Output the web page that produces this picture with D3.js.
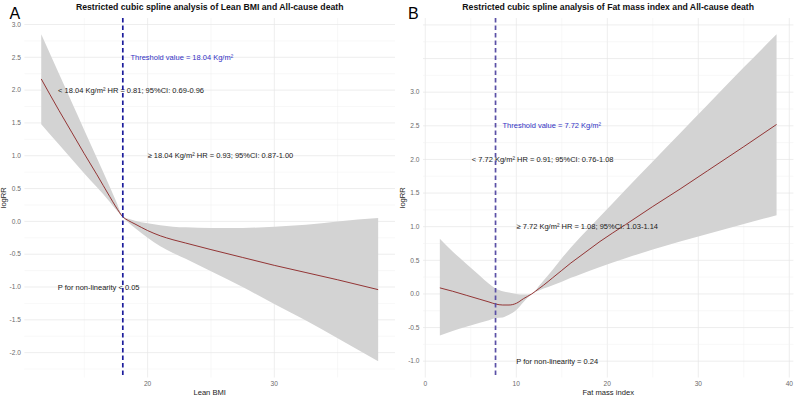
<!DOCTYPE html>
<html>
<head>
<meta charset="utf-8">
<script src="https://cdn.jsdelivr.net/npm/d3@7"></script>
<style>
  body { margin: 0; background: #fff; }
  text { font-family: "Liberation Sans", Arial, sans-serif; }
</style>
</head>
<body>
<div id="chart"></div>
<script>
const config = {
    width: 796,
    height: 396,
    top: 18,
    bottom: 377.5,
    panels: [
        {left: 24.4, right: 395},
        {left: 423, right: 793.4}
    ]
}

// panel A: lean BMI
const lean_x      = [11.6, 13, 14, 15, 16, 17, 17.5, 18.04, 18.5, 19, 20, 21, 22, 23, 25, 27.5, 30, 32.5, 35, 38.2];
const lean_logrr  = [2.17, 1.69, 1.36, 1.03, 0.71, 0.38, 0.22, 0.07, 0.01, -0.04, -0.14, -0.22, -0.28, -0.33, -0.43, -0.55, -0.67, -0.78, -0.89, -1.04];
const lean_upper  = [2.85, 2.25, 1.82, 1.39, 0.96, 0.53, 0.31, 0.08, 0.04, 0.01, -0.03, -0.06, -0.08, -0.09, -0.10, -0.10, -0.08, -0.05, 0.0, 0.05];
const lean_lower  = [1.48, 1.17, 0.95, 0.73, 0.52, 0.30, 0.18, 0.06, -0.02, -0.10, -0.25, -0.38, -0.48, -0.57, -0.76, -1.00, -1.26, -1.51, -1.78, -2.13];
const lean_threshold = 18.04;
const lean_x_ticks = [20, 30];
const lean_y_ticks = [-2, -1.5, -1, -0.5, 0, 0.5, 1, 1.5, 2, 2.5, 3];
const lean_notes = [
    {x: 22.7, y: 2.5, text: "Threshold value = 18.04 Kg/m²", blue: true},
    {x: 18.69, y: 2.0, text: "< 18.04 Kg/m² HR = 0.81; 95%CI: 0.69-0.96"},
    {x: 25.75, y: 1.0, text: "≥ 18.04 Kg/m² HR = 0.93; 95%CI: 0.87-1.00"},
    {x: 16.13, y: -1.0, text: "P for non-linearity < 0.05"}
];

// panel B: fat mass index
const fat_x      = [1.6, 3, 4.5, 6, 7, 7.72, 8.5, 9.2, 10, 10.8, 11.7, 12.5, 13, 14, 15, 16, 17, 18, 19.2, 22, 25, 28, 31, 35, 38.6];
const fat_logrr  = [0.09, 0.04, -0.02, -0.08, -0.12, -0.15, -0.165, -0.165, -0.14, -0.07, 0.0, 0.08, 0.13, 0.24, 0.35, 0.46, 0.56, 0.66, 0.78, 1.03, 1.30, 1.56, 1.83, 2.19, 2.52];
const fat_upper  = [0.82, 0.63, 0.45, 0.27, 0.15, 0.08, 0.04, 0.02, 0.0, -0.01, 0.0, 0.12, 0.20, 0.36, 0.53, 0.69, 0.84, 0.98, 1.15, 1.55, 1.97, 2.39, 2.81, 3.37, 3.86];
const fat_lower  = [-0.62, -0.55, -0.49, -0.43, -0.39, -0.36, -0.35, -0.31, -0.24, -0.12, 0.0, 0.05, 0.08, 0.13, 0.18, 0.24, 0.29, 0.34, 0.40, 0.53, 0.66, 0.78, 0.89, 1.04, 1.17];
const fat_threshold = 7.72;
const fat_x_ticks = [0, 10, 20, 30, 40];
const fat_y_ticks = [-1, -0.5, 0, 0.5, 1, 1.5, 2, 2.5, 3];
const fat_notes = [
    {x: 13.9, y: 2.5, text: "Threshold value = 7.72 Kg/m²", blue: true},
    {x: 12.9, y: 2.0, text: "< 7.72 Kg/m² HR = 0.91; 95%CI: 0.76-1.08"},
    {x: 17.8, y: 1.0, text: "≥ 7.72 Kg/m² HR = 1.08; 95%CI: 1.03-1.14"},
    {x: 14.5, y: -1.0, text: "P for non-linearity = 0.24"}
];

const panel_tags = ["A", "B"];
const panel_titles = [
    "Restricted cubic spline analysis of Lean BMI and All-cause death",
    "Restricted cubic spline analysis of Fat mass index and All-cause death"
];
const x_titles = ["Lean BMI", "Fat mass index"];

// ggplot style 5% expansion
function expand(lo, hi) {
    const pad = (hi - lo) * 0.05;
    return [lo - pad, hi + pad];
}

function steps(lo, hi, step) {
    const out = [];
    for (let v = Math.ceil(lo / step) * step; v <= hi + 1e-9; v += step) out.push(+v.toFixed(4));
    return out;
}

function draw_panel(svg, i, p) {
    const box = config.panels[i];
    const g = svg.append("g");

    const rows = p.x.map((x, k) => ({x: x, y: p.logrr[k], lo: p.lower[k], hi: p.upper[k]}));

    const x = d3.scaleLinear()
        .domain(expand(d3.min(p.x), d3.max(p.x)))
        .range([box.left, box.right]);

    const y_lo = d3.min([d3.min(p.lower), d3.min(p.notes, d => d.y)]);
    const y_hi = d3.max([d3.max(p.upper), d3.max(p.notes, d => d.y)]);
    const y = d3.scaleLinear()
        .domain(expand(y_lo, y_hi))
        .range([config.bottom, config.top]);

    // grid
    const xd = x.domain(), yd = y.domain();
    g.selectAll(".gx")
        .data(steps(xd[0], xd[1], 5))
        .enter().append("line")
        .attr("x1", d => x(d)).attr("x2", d => x(d))
        .attr("y1", config.top).attr("y2", config.bottom)
        .attr("stroke", d => d % 10 === 0 ? "#e5e5e5" : "#f0f0f0")
        .attr("stroke-width", d => d % 10 === 0 ? 0.7 : 0.5);
    g.selectAll(".gy")
        .data(steps(yd[0], yd[1], 0.25))
        .enter().append("line")
        .attr("x1", box.left).attr("x2", box.right)
        .attr("y1", d => y(d)).attr("y2", d => y(d))
        .attr("stroke", d => (d * 2) % 1 === 0 ? "#e5e5e5" : "#f0f0f0")
        .attr("stroke-width", d => (d * 2) % 1 === 0 ? 0.7 : 0.5);

    // confidence band + spline
    g.append("path")
        .datum(rows)
        .attr("d", d3.area().x(d => x(d.x)).y0(d => y(d.lo)).y1(d => y(d.hi)).curve(d3.curveMonotoneX))
        .attr("fill", "#d3d3d3");
    g.append("path")
        .datum(rows)
        .attr("d", d3.line().x(d => x(d.x)).y(d => y(d.y)).curve(d3.curveMonotoneX))
        .attr("fill", "none")
        .attr("stroke", "#8b2323")
        .attr("stroke-width", 0.9);

    // annotations
    g.selectAll(".note")
        .data(p.notes)
        .enter().append("text")
        .attr("x", d => x(d.x))
        .attr("y", d => y(d.y))
        .attr("dy", "0.35em")
        .attr("text-anchor", "middle")
        .attr("font-size", 7.5)
        .attr("fill", d => d.blue ? "#3232c4" : "#1a1a1a")
        .text(d => d.text);

    // threshold
    g.append("line")
        .attr("x1", x(p.threshold)).attr("x2", x(p.threshold))
        .attr("y1", config.top).attr("y2", config.bottom)
        .attr("stroke", i === 0 ? "#1c1c9c" : "#5a50a6")
        .attr("stroke-width", 1.7)
        .attr("stroke-dasharray", "4.5,3");

    // axes labels
    g.selectAll(".xt")
        .data(p.x_ticks)
        .enter().append("text")
        .attr("x", d => x(d))
        .attr("y", 385.5)
        .attr("text-anchor", "middle")
        .attr("font-size", 6.6)
        .attr("fill", "#6b6b6b")
        .text(d => d);
    g.selectAll(".yt")
        .data(p.y_ticks)
        .enter().append("text")
        .attr("x", box.left - 3.5)
        .attr("y", d => y(d))
        .attr("dy", "0.35em")
        .attr("text-anchor", "end")
        .attr("font-size", 6.6)
        .attr("fill", "#6b6b6b")
        .text(d => d.toFixed(1));

    const mid = (box.left + box.right) / 2;
    g.append("text")
        .attr("x", mid).attr("y", 395)
        .attr("text-anchor", "middle")
        .attr("font-size", 7.6)
        .attr("fill", "#222")
        .text(p.x_title);
    g.append("text")
        .attr("transform", `translate(${box.left - 18},${(config.top + config.bottom) / 2}) rotate(-90)`)
        .attr("text-anchor", "middle")
        .attr("font-size", 7.6)
        .attr("fill", "#222")
        .text("logRR");

    g.append("text")
        .attr("x", mid).attr("y", 10)
        .attr("text-anchor", "middle")
        .attr("font-size", 8.7)
        .attr("font-weight", "bold")
        .attr("fill", "#111")
        .text(p.title);
    g.append("text")
        .attr("x", box.left - 15).attr("y", 19)
        .attr("font-size", 16)
        .attr("fill", "#000")
        .text(p.tag);
}

const svg = d3.select("#chart")
    .append("svg")
    .attr("width", config.width)
    .attr("height", config.height);

draw_panel(svg, 0, {
    x: lean_x, logrr: lean_logrr, lower: lean_lower, upper: lean_upper,
    threshold: lean_threshold, x_ticks: lean_x_ticks, y_ticks: lean_y_ticks,
    notes: lean_notes, title: panel_titles[0], tag: panel_tags[0], x_title: x_titles[0]
});
draw_panel(svg, 1, {
    x: fat_x, logrr: fat_logrr, lower: fat_lower, upper: fat_upper,
    threshold: fat_threshold, x_ticks: fat_x_ticks, y_ticks: fat_y_ticks,
    notes: fat_notes, title: panel_titles[1], tag: panel_tags[1], x_title: x_titles[1]
});
</script>
</body>
</html>
